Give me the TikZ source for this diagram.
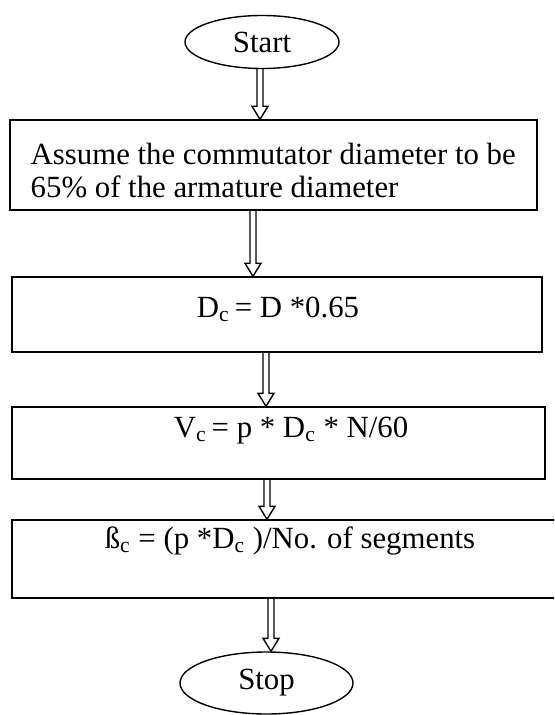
\documentclass[tikz,border=0pt]{standalone}
\usepackage{fontspec}
\setmainfont{Liberation Serif}
\usetikzlibrary{shapes.geometric,calc}

% hollow block arrow from one node down to the next, at x = #1
\newcommand{\flowarrow}[3]{%
  \draw[blockarrow] let \p1=(#1,0), \p2=(#2.south), \p3=(#3.north) in
    (\x1-1.5pt,\y2) -- (\x1-1.5pt,\y3+6.5pt) -- (\x1-4pt,\y3+6.5pt) -- (\x1,\y3)
    -- (\x1+4pt,\y3+6.5pt) -- (\x1+1.5pt,\y3+6.5pt) -- (\x1+1.5pt,\y2);
}

\begin{document}
\begin{tikzpicture}[x=0.5pt, y=-0.5pt, line width=0.7pt,
    every node/.style={font=\fontsize{15.4}{16.5}\selectfont},
    terminal/.style={ellipse, draw, inner sep=0pt},
    stepbox/.style={rectangle, draw, inner sep=0pt},
    blockarrow/.style={draw, line join=miter}]

    \useasboundingbox (0,0) rectangle (554,715);
    \clip (0,0) rectangle (554,715);

    % Start
    \node[terminal, minimum width=77pt, minimum height=26.5pt] (start) at (262,42) {Start};

    % assumption
    \node[stepbox, minimum width=263.5pt, minimum height=45pt] (assume) at (273.5,165) {};
    \node[anchor=base west, align=left, inner sep=0pt] (assumetxt) at (30,198) {Assume the commutator diameter to be\\65\% of the armature diameter};

    % commutator diameter
    \node[stepbox, minimum width=265pt, minimum height=37.5pt] (dc) at (277,314.5) {};
    \node[anchor=base] (dctxt) at (278,317) {D\textsubscript{c}\,= D *0.65};

    % peripheral speed
    \node[stepbox, minimum width=266.5pt, minimum height=36pt] (vc) at (278.5,443) {};
    \node[anchor=base] (vctxt) at (291,437) {V\textsubscript{c}\,= p * D\textsubscript{c} * N/60};

    % segment pitch
    \node[stepbox, minimum width=294pt, minimum height=39pt] (beta) at (306,559) {};
    \node[anchor=base] (betatxt) at (290,548) {ß\textsubscript{c} = (p *D\textsubscript{c} )/No. of segments};

    % Stop
    \node[terminal, minimum width=86.5pt, minimum height=31pt] (stop) at (266.5,683) {Stop};

    % arrows
    \flowarrow{260}{start}{assume}
    \flowarrow{253}{assume}{dc}
    \flowarrow{266}{dc}{vc}
    \flowarrow{267}{vc}{beta}
    \flowarrow{271}{beta}{stop}

\end{tikzpicture}
\end{document}
